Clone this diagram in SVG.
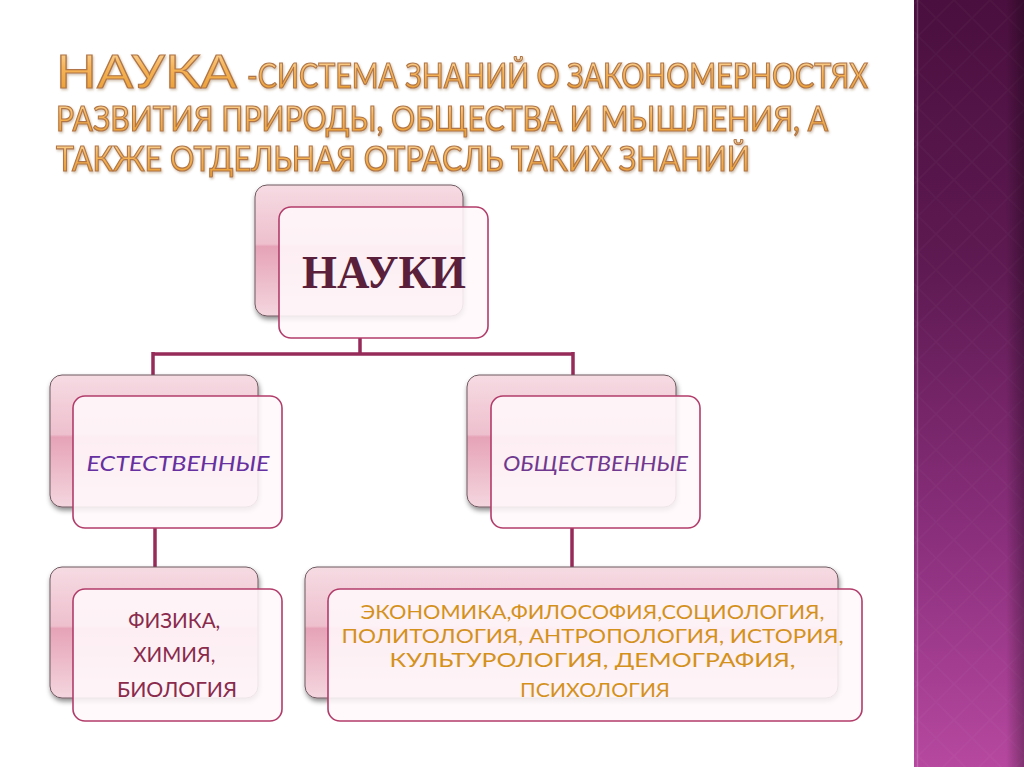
<svg xmlns="http://www.w3.org/2000/svg" width="1024" height="767" viewBox="0 0 1024 767">
<defs>
<linearGradient id="band" x1="0" y1="0" x2="0" y2="1">
<stop offset="0" stop-color="#4a0f3e"/>
<stop offset="0.35" stop-color="#5e1a52"/>
<stop offset="0.7" stop-color="#8a2f7c"/>
<stop offset="1" stop-color="#b6489f"/>
</linearGradient>
<linearGradient id="bandEdge" x1="0" y1="0" x2="1" y2="0">
<stop offset="0" stop-color="#000" stop-opacity="0"/>
<stop offset="1" stop-color="#000" stop-opacity="0.3"/>
</linearGradient>
<pattern id="diam" width="36" height="36" patternUnits="userSpaceOnUse">
<path d="M18 0 L36 18 L18 36 L0 18 Z" fill="none" stroke="#ffffff" stroke-opacity="0.025" stroke-width="1.5"/>
</pattern>
<linearGradient id="title" x1="0" y1="0" x2="0" y2="1">
<stop offset="0" stop-color="#fde3b8"/>
<stop offset="0.45" stop-color="#f6b458"/>
<stop offset="1" stop-color="#e99a2c"/>
</linearGradient>
<linearGradient id="backFill" x1="0" y1="0" x2="0" y2="1">
<stop offset="0" stop-color="#f6dbe3"/>
<stop offset="0.45" stop-color="#eec0ce"/>
<stop offset="0.47" stop-color="#e6a3b7"/>
<stop offset="1" stop-color="#f4d6df"/>
</linearGradient>
<filter id="shadow" x="-10%" y="-10%" width="125%" height="130%">
<feDropShadow dx="1" dy="3" stdDeviation="2.5" flood-color="#000" flood-opacity="0.45"/>
</filter>
<filter id="tshadow" x="-5%" y="-5%" width="110%" height="120%">
<feDropShadow dx="1" dy="1.5" stdDeviation="1" flood-color="#7a4a20" flood-opacity="0.35"/>
</filter>
</defs>
<style>
.back{fill:url(#backFill);stroke:#6e5a60;stroke-width:1;filter:url(#shadow)}
.front{fill:#fff8fa;fill-opacity:0.88;stroke:#b23c69;stroke-width:1.6}
.conn{stroke:#962a58;stroke-width:3.5;fill:none}
.t1{font-family:Lato,"Open Sans","Liberation Sans",sans-serif;fill:url(#title);stroke:#b07648;stroke-width:1.2;filter:url(#tshadow)}
.lbl{font-family:Lato,"Open Sans","Liberation Sans",sans-serif;text-anchor:middle}
</style>
<rect x="0" y="0" width="1024" height="767" fill="#ffffff"/>
<g id="band">
<rect x="914" y="0" width="110" height="767" fill="url(#band)"/>
<rect x="914" y="0" width="110" height="767" fill="url(#diam)"/>
<rect x="1006" y="0" width="18" height="767" fill="url(#bandEdge)"/>
<line x1="917.5" y1="0" x2="917.5" y2="767" stroke="#ffffff" stroke-opacity="0.18" stroke-width="1.5"/>
</g>
<g id="title-text">
<text class="t1" x="56" y="88" font-size="47" textLength="181" lengthAdjust="spacingAndGlyphs">НАУКА</text>
<text class="t1" x="247" y="88" font-size="34" textLength="621" lengthAdjust="spacingAndGlyphs">-СИСТЕМА ЗНАНИЙ О ЗАКОНОМЕРНОСТЯХ</text>
<text class="t1" x="56" y="131" font-size="34" textLength="772" lengthAdjust="spacingAndGlyphs">РАЗВИТИЯ ПРИРОДЫ, ОБЩЕСТВА И МЫШЛЕНИЯ, А</text>
<text class="t1" x="56" y="171" font-size="34" textLength="694" lengthAdjust="spacingAndGlyphs">ТАКЖЕ ОТДЕЛЬНАЯ ОТРАСЛЬ ТАКИХ ЗНАНИЙ</text>
</g>
<g id="connectors">
<path class="conn" d="M360 338 V354 M153 354 H573 M153 352 V375 M573 352 V375"/>
<path class="conn" d="M155 528 V567"/>
<path class="conn" d="M572 528 V567"/>
</g>
<g id="node-nauki">
<rect class="back" x="255" y="185" width="208" height="131" rx="12"/>
<rect class="front" x="279" y="207" width="209" height="131" rx="12"/>
<text x="384" y="288" font-family="'Liberation Serif',serif" font-weight="bold" font-size="47" fill="#5a1f3a" text-anchor="middle" textLength="164" lengthAdjust="spacingAndGlyphs">НАУКИ</text>
</g>
<g id="node-natural">
<rect class="back" x="50" y="375" width="208" height="132" rx="12"/>
<rect class="front" x="73" y="396" width="209" height="132" rx="12"/>
<text class="lbl" x="178" y="471" font-size="21" font-style="italic" fill="#6630a0" textLength="183" lengthAdjust="spacingAndGlyphs">ЕСТЕСТВЕННЫЕ</text>
</g>
<g id="node-social">
<rect class="back" x="467" y="375" width="209" height="132" rx="12"/>
<rect class="front" x="491" y="396" width="209" height="132" rx="12"/>
<text class="lbl" x="595.5" y="471" font-size="21" font-style="italic" fill="#70388f" textLength="185" lengthAdjust="spacingAndGlyphs">ОБЩЕСТВЕННЫЕ</text>
</g>
<g id="node-physics">
<rect class="back" x="50" y="567" width="208" height="131" rx="12"/>
<rect class="front" x="73" y="589" width="209" height="132" rx="12"/>
<text class="lbl" font-size="21" fill="#8a2a4c">
<tspan x="177" y="628" textLength="92" lengthAdjust="spacingAndGlyphs">ФИЗИКА,</tspan>
<tspan x="177" y="662" textLength="82" lengthAdjust="spacingAndGlyphs">ХИМИЯ,</tspan>
<tspan x="177" y="697" textLength="120" lengthAdjust="spacingAndGlyphs">БИОЛОГИЯ</tspan>
</text>
</g>
<g id="node-humanities">
<rect class="back" x="305" y="567" width="533" height="131" rx="12"/>
<rect class="front" x="328" y="589" width="534" height="132" rx="12"/>
<text class="lbl" font-size="19.5" fill="#d4911c">
<tspan x="595" y="619" textLength="464" lengthAdjust="spacingAndGlyphs">ЭКОНОМИКА,ФИЛОСОФИЯ,СОЦИОЛОГИЯ,</tspan>
<tspan x="595" y="643" textLength="502" lengthAdjust="spacingAndGlyphs">ПОЛИТОЛОГИЯ, АНТРОПОЛОГИЯ, ИСТОРИЯ,</tspan>
<tspan x="595" y="667" textLength="406" lengthAdjust="spacingAndGlyphs">КУЛЬТУРОЛОГИЯ, ДЕМОГРАФИЯ,</tspan>
<tspan x="595" y="697" textLength="150" lengthAdjust="spacingAndGlyphs">ПСИХОЛОГИЯ</tspan>
</text>
</g>
</svg>
